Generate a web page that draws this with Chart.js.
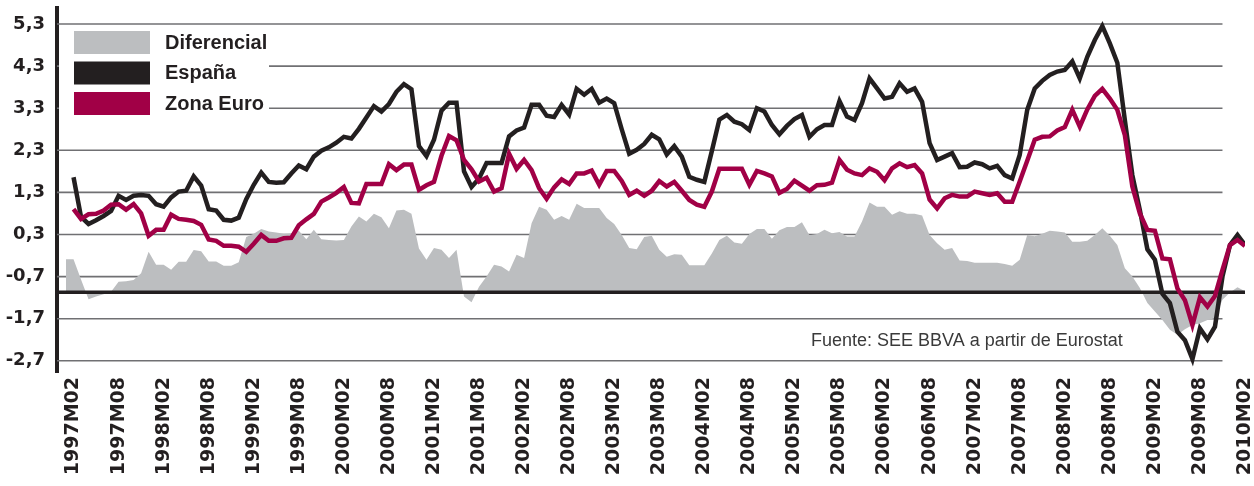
<!DOCTYPE html>
<html>
<head>
<meta charset="utf-8">
<style>
  html, body { margin: 0; padding: 0; background: #fff; }
</style>
</head>
<body>
<canvas id="chart" width="1254" height="486"></canvas>

<script src="https://cdn.jsdelivr.net/npm/chart.js"></script>

<script>
  // monthly categories, 1997M01 .. 2010M02
  const months = [];
  for (let yr = 1997; yr <= 2010; yr++) {
    for (let mo = 1; mo <= 12; mo++) {
      if (yr === 2010 && mo > 2) break;
      months.push(yr + 'M' + String(mo).padStart(2, '0'));
    }
  }

  // one row per calendar year (1997 row starts at M01)
  const espana = [
    null, 1.66, 0.72, 0.55, 0.64, 0.74, 0.86, 1.22, 1.12, 1.22, 1.24, 1.22,
    1.02, 0.96, 1.18, 1.32, 1.34, 1.68, 1.46, 0.90, 0.87, 0.65, 0.63, 0.70,
    1.14, 1.48, 1.77, 1.55, 1.53, 1.54, 1.75, 1.94, 1.85, 2.15, 2.29, 2.37,
    2.48, 2.62, 2.58, 2.81, 3.08, 3.35, 3.22, 3.40, 3.69, 3.87, 3.75, 2.40,
    2.16, 2.55, 3.24, 3.43, 3.43, 1.80, 1.43, 1.63, 2.00, 2.00, 2.00, 2.63,
    2.77, 2.84, 3.38, 3.38, 3.12, 3.09, 3.38, 3.15, 3.76, 3.62, 3.76, 3.43,
    3.53, 3.42, 2.80, 2.22, 2.31, 2.45, 2.67, 2.56, 2.20, 2.40, 2.15, 1.67,
    1.60, 1.55, 2.28, 3.03, 3.14, 2.98, 2.92, 2.78, 3.30, 3.22, 2.90, 2.68,
    2.88, 3.04, 3.14, 2.62, 2.80, 2.90, 2.90, 3.47, 3.10, 3.02, 3.42, 4.01,
    3.77, 3.53, 3.57, 3.89, 3.69, 3.77, 3.45, 2.47, 2.07, 2.15, 2.23, 1.90,
    1.91, 2.01, 1.97, 1.87, 1.93, 1.71, 1.63, 2.19, 3.26, 3.77, 3.95, 4.09,
    4.17, 4.21, 4.41, 4.01, 4.52, 4.92, 5.25, 4.84, 4.38, 3.02, 1.71, 0.88,
    -0.05, -0.30, -1.11, -1.33, -2.01, -2.21, -2.66, -1.93, -2.19, -1.89, -0.70, 0.05,
    0.29, 0.05
  ];

  const zonaEuro = [
    null, 0.90, 0.67, 0.78, 0.79, 0.87, 1.01, 1.02, 0.89, 1.02, 0.80, 0.27,
    0.41, 0.41, 0.77, 0.67, 0.65, 0.62, 0.53, 0.18, 0.15, 0.03, 0.03, 0.01,
    -0.11, 0.08, 0.29, 0.15, 0.15, 0.21, 0.22, 0.52, 0.66, 0.79, 1.08, 1.18,
    1.29, 1.43, 1.05, 1.04, 1.50, 1.50, 1.50, 1.97, 1.83, 1.96, 1.96, 1.36,
    1.47, 1.55, 2.17, 2.64, 2.54, 2.07, 1.85, 1.56, 1.65, 1.32, 1.40, 2.22,
    1.86, 2.07, 1.83, 1.40, 1.15, 1.42, 1.61, 1.50, 1.75, 1.75, 1.82, 1.48,
    1.81, 1.81, 1.57, 1.24, 1.34, 1.22, 1.34, 1.57, 1.44, 1.55, 1.34, 1.12,
    1.01, 0.96, 1.32, 1.86, 1.86, 1.86, 1.86, 1.48, 1.81, 1.75, 1.68, 1.29,
    1.38, 1.58, 1.46, 1.34, 1.47, 1.48, 1.53, 2.07, 1.84, 1.75, 1.71, 1.87,
    1.79, 1.59, 1.87, 1.99, 1.90, 1.95, 1.75, 1.13, 0.92, 1.16, 1.24, 1.20,
    1.20, 1.32, 1.28, 1.24, 1.28, 1.08, 1.08, 1.56, 2.05, 2.55, 2.62, 2.63,
    2.77, 2.85, 3.26, 2.86, 3.27, 3.59, 3.76, 3.53, 3.26, 2.66, 1.44, 0.80,
    0.41, 0.39, -0.27, -0.29, -0.98, -1.26, -1.85, -1.19, -1.41, -1.16, -0.54, 0.05,
    0.17, 0.03
  ];

  // differential, measured from its own zero line
  const diferencial = [
    0.78, 0.78, 0.30, -0.17, -0.10, -0.05, 0.01, 0.25, 0.26, 0.29, 0.45, 0.96,
    0.65, 0.65, 0.53, 0.72, 0.72, 1.00, 0.97, 0.73, 0.73, 0.63, 0.63, 0.71,
    1.31, 1.39, 1.50, 1.44, 1.42, 1.39, 1.40, 1.46, 1.26, 1.48, 1.26, 1.24,
    1.23, 1.24, 1.56, 1.80, 1.68, 1.86, 1.78, 1.52, 1.94, 1.96, 1.86, 1.04,
    0.77, 1.05, 1.01, 0.81, 1.01, -0.10, -0.24, 0.13, 0.37, 0.65, 0.61, 0.49,
    0.89, 0.81, 1.64, 2.03, 1.96, 1.72, 1.81, 1.72, 2.10, 2.00, 2.00, 2.00,
    1.76, 1.62, 1.36, 1.05, 1.02, 1.31, 1.34, 1.01, 0.84, 0.90, 0.89, 0.64,
    0.64, 0.64, 0.92, 1.24, 1.34, 1.18, 1.15, 1.38, 1.50, 1.50, 1.27, 1.47,
    1.55, 1.55, 1.66, 1.35, 1.38, 1.48, 1.40, 1.43, 1.32, 1.32, 1.68, 2.13,
    2.03, 2.03, 1.84, 1.92, 1.86, 1.86, 1.82, 1.36, 1.16, 1.01, 1.05, 0.75,
    0.74, 0.70, 0.70, 0.70, 0.70, 0.67, 0.63, 0.77, 1.36, 1.33, 1.39, 1.46,
    1.44, 1.42, 1.20, 1.20, 1.22, 1.36, 1.52, 1.34, 1.12, 0.57, 0.37, 0.10,
    -0.26, -0.46, -0.66, -0.89, -1.01, -0.88, -0.78, -0.74, -0.66, -0.62, -0.18, -0.01,
    0.12, 0.02
  ];

  const yTicks = [5.3, 4.3, 3.3, 2.3, 1.3, 0.3, -0.7, -1.7, -2.7];

  const Y_MIN = -2.966;
  const Y_MAX = 5.68;
  const DIFF_ZERO = -1.07;   // where the differential's zero sits on the left scale
  const GRID_END = '2009M11';
  const SOURCE = 'Fuente: SEE BBVA a partir de Eurostat';

  const INK = '#231f20';
  const GREY = '#bcbec0';
  const WINE = '#a10046';

  const toPoints = arr => arr.map((v, i) => ({ x: i, y: v }));

  const decor = {
    id: 'decor',
    beforeDatasetsDraw(chart) {
      const { ctx, chartArea, scales: { x, y } } = chart;
      const gridEnd = x.getPixelForValue(months.indexOf(GRID_END));
      ctx.save();
      ctx.strokeStyle = '#707073';
      ctx.lineWidth = 1.6;
      yTicks.forEach(v => {
        const py = y.getPixelForValue(v);
        ctx.beginPath();
        ctx.moveTo(chartArea.left, py);
        ctx.lineTo(gridEnd, py);
        ctx.stroke();
      });

      // legend
      ctx.fillStyle = '#fff';
      ctx.fillRect(chartArea.left + 2, 27, 210, 92);
      ctx.font = 'bold 20px "Liberation Sans", Arial, sans-serif';
      ctx.textBaseline = 'middle';
      chart.data.datasets.forEach((ds, i) => {
        const top = 31 + i * 30.5;
        ctx.fillStyle = ds.fill ? ds.backgroundColor : ds.borderColor;
        ctx.fillRect(74, top, 76, 23);
        ctx.fillStyle = INK;
        ctx.fillText(ds.label, 165, top + 12);
      });

      // source note
      ctx.font = '18px "Liberation Sans", Arial, sans-serif';
      ctx.fillStyle = '#3a3a3a';
      ctx.textBaseline = 'alphabetic';
      ctx.fillText(SOURCE, 811, 346);
      ctx.restore();
    },
    afterDatasetDraw(chart, args) {
      if (args.index !== 0) return;
      const { ctx, chartArea, scales: { yd } } = chart;
      const py = yd.getPixelForValue(0);
      ctx.save();
      ctx.strokeStyle = INK;
      ctx.lineWidth = 3.5;
      ctx.beginPath();
      ctx.moveTo(chartArea.left, py);
      ctx.lineTo(chartArea.right, py);
      ctx.stroke();
      ctx.restore();
    }
  };

  new Chart(document.getElementById('chart'), {
    type: 'line',
    data: {
      datasets: [
        {
          label: 'Diferencial',
          data: toPoints(diferencial),
          yAxisID: 'yd',
          backgroundColor: GREY,
          borderWidth: 0,
          fill: 'origin',
          pointRadius: 0,
          order: 3
        },
        {
          label: 'España',
          data: toPoints(espana),
          yAxisID: 'y',
          borderColor: INK,
          borderWidth: 4.5,
          borderJoinStyle: 'miter',
          fill: false,
          pointRadius: 0,
          order: 2
        },
        {
          label: 'Zona Euro',
          data: toPoints(zonaEuro),
          yAxisID: 'y',
          borderColor: WINE,
          borderWidth: 4.5,
          borderJoinStyle: 'miter',
          fill: false,
          pointRadius: 0,
          order: 1
        }
      ]
    },
    options: {
      responsive: false,
      animation: false,
      layout: { padding: { top: 8, right: 9, left: 0, bottom: 0 } },
      plugins: {
        legend: { display: false },
        tooltip: { enabled: false }
      },
      scales: {
        x: {
          type: 'linear',
          min: -1.2,
          max: months.length - 1,
          grid: { display: false, drawTicks: false },
          border: { display: false },
          afterBuildTicks: scale => {
            scale.ticks = months
              .map((m, i) => i)
              .filter(i => /M0[28]$/.test(months[i]))
              .map(i => ({ value: i }));
          },
          afterFit: scale => {
            scale.height = 114;
            scale.paddingLeft = 0;
            scale.paddingRight = 0;
          },
          ticks: {
            autoSkip: false,
            minRotation: 90,
            maxRotation: 90,
            padding: 5,
            color: INK,
            font: { family: 'DejaVu Sans', weight: 'bold', size: 19 },
            callback: v => months[v]
          }
        },
        y: {
          min: Y_MIN,
          max: Y_MAX,
          grid: { display: false, drawTicks: false },
          border: { display: true, color: INK, width: 4 },
          afterBuildTicks: scale => {
            scale.ticks = yTicks.map(v => ({ value: v }));
          },
          afterFit: scale => {
            scale.width = 57;
            scale.paddingTop = 0;
            scale.paddingBottom = 0;
          },
          ticks: {
            padding: 12,
            color: INK,
            font: { family: 'DejaVu Sans', weight: 'bold', size: 18 },
            callback: v => v.toFixed(1).replace('.', ',')
          }
        },
        yd: {
          display: false,
          min: Y_MIN - DIFF_ZERO,
          max: Y_MAX - DIFF_ZERO
        }
      }
    },
    plugins: [decor]
  });
</script>
</body>
</html>
